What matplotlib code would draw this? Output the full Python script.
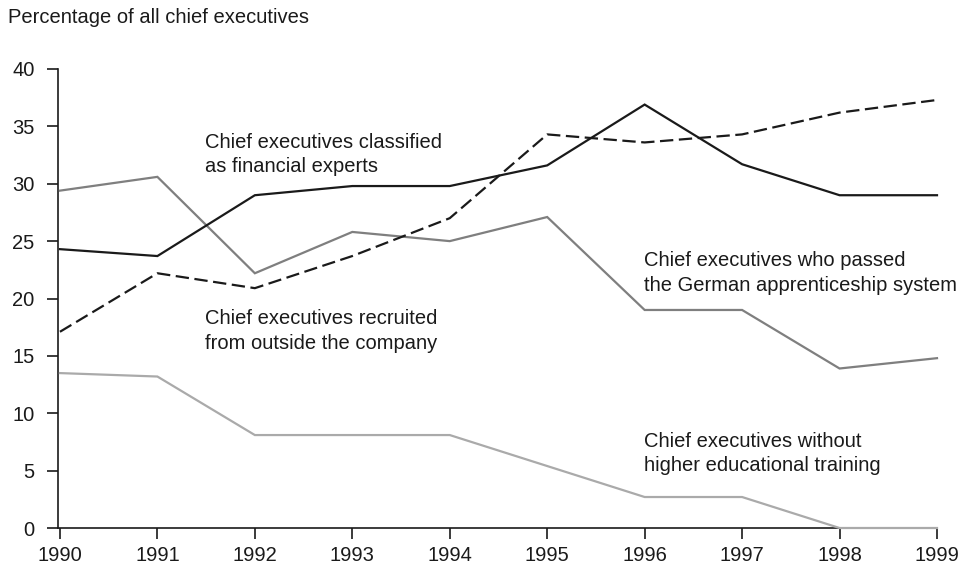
import matplotlib.pyplot as plt

plt.rcParams['font.family'] = ['Liberation Sans', 'DejaVu Sans']

# Data
years = [1990, 1991, 1992, 1993, 1994, 1995, 1996, 1997, 1998, 1999]
financial_experts = [24.3, 23.7, 29.0, 29.8, 29.8, 31.6, 36.9, 31.7, 29.0, 29.0]
recruited_outside = [17.1, 22.2, 20.9, 23.7, 27.0, 34.3, 33.6, 34.3, 36.2, 37.3]
apprenticeship = [29.4, 30.6, 22.2, 25.8, 25.0, 27.1, 19.0, 19.0, 13.9, 14.8]
no_higher_edu = [13.5, 13.2, 8.1, 8.1, 8.1, 5.4, 2.7, 2.7, 0.0, 0.0]

y_ticks = [0, 5, 10, 15, 20, 25, 30, 35, 40]

fig = plt.figure(figsize=(9.71, 5.76), dpi=100)
ax = fig.add_axes([58 / 971, 1 - 528 / 576, (937 - 58) / 971, (528 - 69) / 576])

# Lines (drawn above the spines, like the reference)
ax.plot(years, no_higher_edu, color='#aaaaaa', lw=1.6, solid_joinstyle='miter', clip_on=False, zorder=3)
ax.plot(years, apprenticeship, color='#7f7f7f', lw=1.6, solid_joinstyle='miter', clip_on=False, zorder=3)
ax.plot(years, recruited_outside, color='#1a1a1a', lw=1.6, dashes=(6, 2.5), clip_on=False, zorder=3)
ax.plot(years, financial_experts, color='#1a1a1a', lw=1.6, solid_joinstyle='miter', clip_on=False, zorder=3)

# Axes styling
ax.set_xlim(1989.98, 1999)
ax.set_ylim(0, 40)
ax.set_xticks(years)
ax.set_yticks(y_ticks)
for side in ['top', 'right']:
    ax.spines[side].set_visible(False)
for side in ['left', 'bottom']:
    ax.spines[side].set_linewidth(1.2)
    ax.spines[side].set_color('#1a1a1a')
ax.tick_params(axis='both', direction='out', length=8, width=1.2, color='#1a1a1a',
               labelsize=14.5, labelcolor='#1a1a1a')
ax.tick_params(axis='y', pad=9)
ax.tick_params(axis='x', pad=5)

# Title / y label
fig.text(8 / 971, 1 - 8 / 576, 'Percentage of all chief executives', ha='left', va='top',
         fontsize=14.5, color='#1a1a1a')

# Series annotations
label_kw = dict(ha='left', va='top', fontsize=14.5, color='#1a1a1a', linespacing=1.38)
ax.text(1991.49, 34.45, 'Chief executives classified\nas financial experts', **label_kw)
ax.text(1991.49, 19.1, 'Chief executives recruited\nfrom outside the company', **label_kw)
ax.text(1995.99, 24.1, 'Chief executives who passed\nthe German apprenticeship system', **label_kw)
ax.text(1995.99, 8.4, 'Chief executives without\nhigher educational training', **label_kw)

plt.savefig('out.png', dpi=100)
